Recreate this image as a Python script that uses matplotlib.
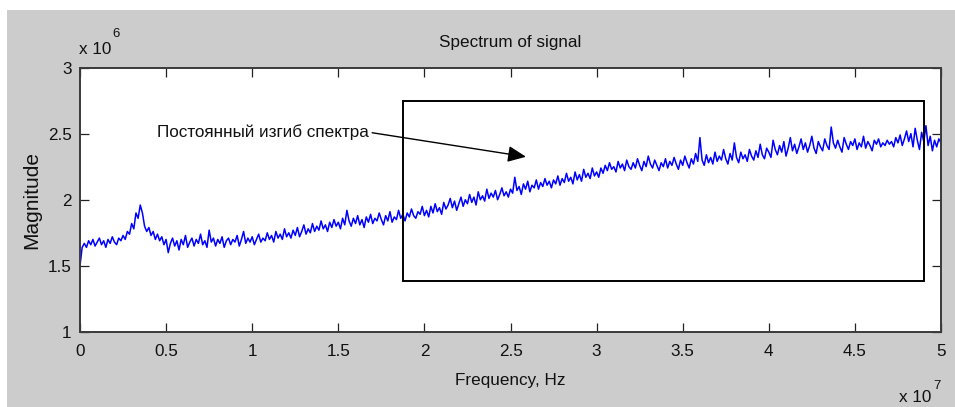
import numpy as np
import matplotlib
matplotlib.use('Agg')
import matplotlib.pyplot as plt
from matplotlib.patches import Rectangle
from matplotlib.ticker import FuncFormatter

# Spectrum magnitude, x 10^6, every 0.0125e7 Hz (0 .. 5e7 Hz)
mag = [
    1.50, 1.64, 1.67, 1.64, 1.69, 1.66, 1.70, 1.65, 1.68, 1.71, 1.66, 1.69, 1.64, 1.70, 1.67, 1.72, 1.68, 1.66, 1.71, 1.69,
    1.73, 1.70, 1.76, 1.74, 1.82, 1.78, 1.90, 1.86, 1.96, 1.90, 1.80, 1.76, 1.79, 1.73, 1.76, 1.70, 1.74, 1.69, 1.72, 1.66,
    1.70, 1.60, 1.67, 1.71, 1.65, 1.69, 1.62, 1.70, 1.66, 1.73, 1.64, 1.68, 1.71, 1.65, 1.70, 1.67, 1.74, 1.66, 1.69, 1.64,
    1.77, 1.68, 1.71, 1.65, 1.70, 1.67, 1.72, 1.64, 1.69, 1.71, 1.66, 1.70, 1.68, 1.73, 1.65, 1.70, 1.76, 1.67, 1.71, 1.68,
    1.72, 1.66, 1.70, 1.74, 1.68, 1.71, 1.69, 1.75, 1.70, 1.73, 1.68, 1.76, 1.71, 1.74, 1.70, 1.78, 1.72, 1.75, 1.71, 1.77,
    1.73, 1.79, 1.72, 1.76, 1.81, 1.74, 1.78, 1.75, 1.82, 1.76, 1.80, 1.77, 1.84, 1.78, 1.81, 1.76, 1.83, 1.79, 1.85, 1.80,
    1.83, 1.78, 1.86, 1.81, 1.92, 1.84, 1.80, 1.86, 1.82, 1.88, 1.81, 1.85, 1.79, 1.87, 1.83, 1.89, 1.82, 1.86, 1.84, 1.90,
    1.85, 1.81, 1.88, 1.84, 1.91, 1.83, 1.87, 1.85, 1.92, 1.86, 1.89, 1.84, 1.90, 1.87, 1.93, 1.88, 1.86, 1.91, 1.89, 1.95,
    1.88, 1.92, 1.87, 1.95, 1.90, 1.97, 1.91, 1.94, 1.89, 1.98, 1.93, 1.96, 2.01, 1.94, 1.99, 1.92, 1.97, 2.02, 1.95, 2.00,
    1.97, 2.04, 1.98, 2.02, 1.96, 2.06, 2.00, 2.03, 1.99, 2.08, 2.01, 2.05, 2.02, 2.07, 2.00, 2.04, 2.09, 2.03, 2.06, 2.02,
    2.08, 2.05, 2.17, 2.07, 2.10, 2.04, 2.12, 2.08, 2.14, 2.06, 2.11, 2.09, 2.15, 2.08, 2.13, 2.10, 2.16, 2.11, 2.14, 2.09,
    2.15, 2.12, 2.18, 2.11, 2.16, 2.13, 2.20, 2.14, 2.17, 2.12, 2.21, 2.15, 2.19, 2.14, 2.23, 2.17, 2.20, 2.16, 2.24, 2.18,
    2.21, 2.17, 2.24, 2.20, 2.26, 2.22, 2.28, 2.23, 2.25, 2.21, 2.29, 2.24, 2.27, 2.22, 2.30, 2.25, 2.23, 2.28, 2.24, 2.31,
    2.26, 2.22, 2.29, 2.25, 2.33, 2.27, 2.24, 2.30, 2.26, 2.22, 2.28, 2.25, 2.31, 2.24, 2.29, 2.26, 2.32, 2.27, 2.23, 2.30,
    2.26, 2.33, 2.28, 2.24, 2.31, 2.27, 2.35, 2.29, 2.47, 2.30, 2.26, 2.34, 2.28, 2.32, 2.27, 2.36, 2.29, 2.33, 2.30, 2.38,
    2.31, 2.27, 2.35, 2.30, 2.43, 2.32, 2.28, 2.36, 2.31, 2.34, 2.29, 2.38, 2.33, 2.30, 2.37, 2.32, 2.42, 2.34, 2.31, 2.39,
    2.36, 2.32, 2.45, 2.38, 2.34, 2.41, 2.36, 2.44, 2.33, 2.39, 2.47, 2.37, 2.42, 2.35, 2.40, 2.46, 2.38, 2.43, 2.36, 2.41,
    2.48, 2.39, 2.35, 2.44, 2.40, 2.37, 2.46, 2.41, 2.38, 2.55, 2.43, 2.39, 2.45, 2.40, 2.36, 2.47, 2.42, 2.38, 2.44, 2.41,
    2.46, 2.38, 2.43, 2.40, 2.48, 2.39, 2.44, 2.41, 2.37, 2.45, 2.42, 2.46, 2.40, 2.43, 2.41, 2.45, 2.42, 2.44, 2.40, 2.47,
    2.43, 2.49, 2.41, 2.46, 2.52, 2.44, 2.50, 2.40, 2.54, 2.45, 2.38, 2.51, 2.44, 2.56, 2.41, 2.48, 2.37, 2.45, 2.40, 2.46,
    2.43,
]
freq = np.linspace(0, 5e7, len(mag))
magnitude = np.array(mag) * 1e6

xticks = [0, 0.5e7, 1e7, 1.5e7, 2e7, 2.5e7, 3e7, 3.5e7, 4e7, 4.5e7, 5e7]
yticks = [1e6, 1.5e6, 2e6, 2.5e6, 3e6]

# annotation box and arrow (data units)
box_x0, box_x1 = 1.878e7, 4.90e7
box_y0, box_y1 = 1.385e6, 2.75e6
note_text = 'Постоянный изгиб спектра'
note_xy = (0.45e7, 2.51e6)
arrow_tip = (2.59e7, 2.325e6)

plt.rcParams['font.family'] = ['Liberation Sans', 'DejaVu Sans']
fs = 12.3
grey = '#cccccc'
ink = '#111111'

fig = plt.figure(figsize=(9.55, 4.07), dpi=100, facecolor='white')
fig.patches.append(Rectangle((7 / 955, 0), 1, 397 / 407, transform=fig.transFigure,
                             facecolor=grey, edgecolor='none', zorder=-10))

ax = fig.add_axes([80 / 955, 75 / 407, 861 / 955, 264.5 / 407])
ax.set_facecolor('white')
ax.plot(freq, magnitude, color='#0000ff', lw=1.1)

ax.set_xlim(0, 5e7)
ax.set_ylim(1e6, 3e6)
ax.set_xticks(xticks)
ax.set_yticks(yticks)
ax.xaxis.set_major_formatter(FuncFormatter(lambda v, p: '%g' % (v / 1e7)))
ax.yaxis.set_major_formatter(FuncFormatter(lambda v, p: '%g' % (v / 1e6)))
ax.tick_params(direction='in', length=6.5, width=0.9, color='#222222',
               top=True, right=True, labelsize=fs, labelcolor=ink)
ax.tick_params(axis='x', pad=9)
ax.tick_params(axis='y', pad=6)
for s in ax.spines.values():
    s.set_linewidth(1.4)
    s.set_color('#3a3a3a')

ax.set_title('Spectrum of signal', fontsize=fs, pad=15, color=ink)
ax.set_xlabel('Frequency, Hz', fontsize=fs, labelpad=10, color=ink)
ax.set_ylabel('Magnitude', fontsize=15, labelpad=5, color=ink)

# exponent labels like MATLAB
fig.text(79 / 955, 1 - 50 / 407, 'x 10', fontsize=fs, ha='left', va='center', color=ink)
fig.text(112 / 955, 1 - 34 / 407, '6', fontsize=9.5, ha='left', va='center', color=ink)
fig.text(899 / 955, 1 - 398 / 407, 'x 10', fontsize=fs, ha='left', va='center', color=ink)
fig.text(933 / 955, 1 - 386 / 407, '7', fontsize=9.5, ha='left', va='center', color=ink)

ax.add_patch(Rectangle((box_x0, box_y0), box_x1 - box_x0, box_y1 - box_y0,
                       fill=False, edgecolor='black', lw=1.4, zorder=3))
ax.annotate(note_text, xy=arrow_tip, xytext=note_xy, fontsize=fs, ha='left', va='center',
            color=ink,
            arrowprops=dict(arrowstyle='-|>,head_length=0.9,head_width=0.4', color='black',
                            lw=1.0, shrinkA=0, shrinkB=0, relpos=(1, 0.5)))

fig.savefig('out.png', dpi=100, facecolor=fig.get_facecolor())
